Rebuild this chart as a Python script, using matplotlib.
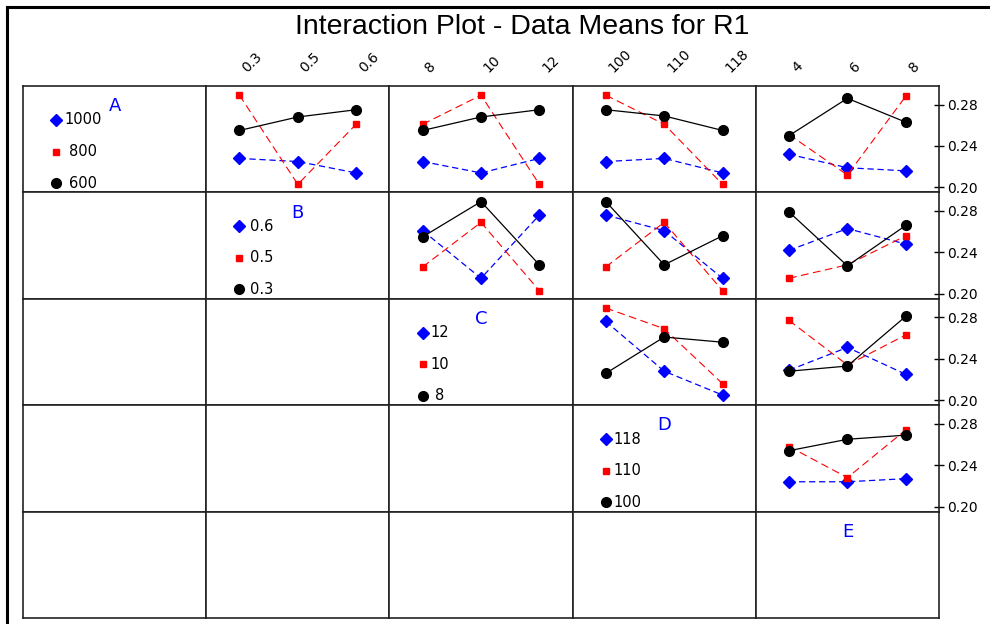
import numpy as np
import matplotlib
matplotlib.use("Agg")
import matplotlib.pyplot as plt
from matplotlib.lines import Line2D

# factor names and their levels (low, mid, high)
factors = ["A", "B", "C", "D", "E"]
levels = {
    "A": ["600", "800", "1000"],
    "B": ["0.3", "0.5", "0.6"],
    "C": ["8", "10", "12"],
    "D": ["100", "110", "118"],
    "E": ["4", "6", "8"],
}

# means of R1
# each entry: [high level (blue), mid level (red), low level (black)] of the row factor
AB = [[0.228, 0.225, 0.214], [0.289, 0.203, 0.261], [0.255, 0.268, 0.275]]
AC = [[0.225, 0.214, 0.228], [0.261, 0.289, 0.203], [0.255, 0.268, 0.275]]
AD = [[0.225, 0.228, 0.214], [0.289, 0.261, 0.203], [0.275, 0.269, 0.255]]
AE = [[0.232, 0.219, 0.216], [0.251, 0.212, 0.288], [0.250, 0.286, 0.263]]
BC = [[0.261, 0.215, 0.276], [0.226, 0.269, 0.203], [0.255, 0.289, 0.228]]
BD = [[0.276, 0.261, 0.215], [0.226, 0.269, 0.203], [0.289, 0.228, 0.256]]
BE = [[0.242, 0.263, 0.248], [0.215, 0.228, 0.256], [0.279, 0.227, 0.266]]
CD = [[0.276, 0.228, 0.205], [0.289, 0.269, 0.216], [0.226, 0.261, 0.256]]
CE = [[0.229, 0.251, 0.225], [0.277, 0.234, 0.263], [0.228, 0.233, 0.281]]
DE = [[0.224, 0.224, 0.227], [0.258, 0.228, 0.274], [0.254, 0.265, 0.269]]

yticks = [0.20, 0.24, 0.28]

means = {
    ("A", "B"): AB, ("A", "C"): AC, ("A", "D"): AD, ("A", "E"): AE,
    ("B", "C"): BC, ("B", "D"): BD, ("B", "E"): BE,
    ("C", "D"): CD, ("C", "E"): CE,
    ("D", "E"): DE,
}

styles = [
    dict(color="#0000ff", marker="D", ms=6, ls=(0, (5, 3)), lw=0.9),
    dict(color="#ff0000", marker="s", ms=5, ls=(0, (7, 4)), lw=0.8),
    dict(color="black", marker="o", ms=7, ls="-", lw=0.9),
]

W, H = 990, 624
fig = plt.figure(figsize=(W / 100, H / 100), dpi=100)

left, right, top, bottom = 23, 939, 86, 618
cw = (right - left) / 5
rh = (bottom - top) / 5

for r in range(5):
    for c in range(5):
        ax = fig.add_axes([(left + c * cw) / W, 1 - (top + (r + 1) * rh) / H, cw / W, rh / H])
        ax.set_xlim(-0.57, 2.57)
        ax.set_ylim(0.1952, 0.2979)
        ax.set_xticks([])
        ax.set_yticks([])
        for s in ax.spines.values():
            s.set_linewidth(1.2)
            s.set_color("#222222")

        if r == 0 and c > 0:
            ax.xaxis.tick_top()
            ax.set_xticks([0, 1, 2])
            ax.set_xticklabels(levels[factors[c]], rotation=45, ha="left", va="bottom", fontsize=10)
            ax.tick_params(axis="x", length=0, pad=8)

        if c == r:
            f = factors[r]
            ax.text(0.5, 0.81, f, transform=ax.transAxes, ha="center", va="center",
                    color="#0000ff", fontsize=13)
            if r < 4:
                labs = levels[f][::-1]
                off = (8 + 4.6 * max(len(l) for l in labs)) / cw * 3.14
                for k, lab in enumerate(labs):
                    yy = 1 - (34 + k * 31.5) / rh
                    st = styles[k]
                    ax.plot([0], [0.1952 + yy * (0.2979 - 0.1952)], marker=st["marker"], ms=st["ms"],
                            color=st["color"], ls="none")
                    ax.text(off, yy, lab, transform=matplotlib.transforms.blended_transform_factory(ax.transData, ax.transAxes),
                            ha="center", va="center", fontsize=10.5)
        elif c > r:
            data = means[(factors[r], factors[c])]
            for k, ys in enumerate(data):
                st = styles[k]
                ax.plot([0, 1, 2], ys, color=st["color"], marker=st["marker"], ms=st["ms"],
                        ls=st["ls"], lw=st["lw"])

        if c == 4 and r < 4:
            ax.yaxis.tick_right()
            ax.set_yticks(yticks)
            ax.set_yticklabels(["%.2f" % t for t in yticks], fontsize=10)
            ax.tick_params(axis="y", direction="inout", length=7, width=1, pad=2)

fig.text(522 / W, 1 - 27 / H, "Interaction Plot - Data Means for R1", ha="center", va="center",
         fontsize=20.5, family="Liberation Sans")

# outer frame (left and top edge only visible)
fig.add_artist(Line2D([7 / W, 7 / W], [0, 1 - 7 / H], color="black", lw=2.2, transform=fig.transFigure))
fig.add_artist(Line2D([7 / W, 1], [1 - 7 / H, 1 - 7 / H], color="black", lw=2.2, transform=fig.transFigure))

fig.savefig("out.png", dpi=100)
